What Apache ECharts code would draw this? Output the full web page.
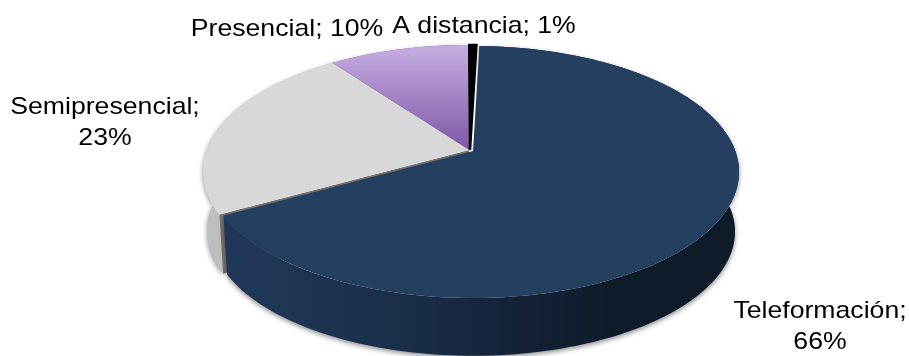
<!DOCTYPE html>
<html><head><meta charset="utf-8">
<style>html,body{margin:0;padding:0;background:#fff}#c{width:909px;height:356px}</style>
<script src="https://cdn.jsdelivr.net/npm/echarts@6/dist/echarts.min.js"></script>
</head><body><div id="c"></div>
<script>
const categories = ['Semipresencial', 'Presencial', 'A distancia', 'Teleformación'];
const values = [23, 10, 0.51, 66.49];
const labelBreaks = [true, false, false, true];

const chart = echarts.init(document.getElementById('c'), null, {renderer: 'canvas'});
const total = values.reduce((a, b) => a + b, 0);
const START = 241, K = 1 / 6, CX = 469, CY = 150, RX = 262.3, RY = 122.5;
const DEPTH = 60, LOW = 0.985;
const G = echarts.graphic.LinearGradient;

function project(deg, off, low) {
  const t = deg * Math.PI / 180, x = Math.sin(t), y = -Math.cos(t), w = 1 - K * y;
  const s = low ? LOW : 1;
  return [CX + off[0] + s * RX * x / w, CY + off[1] + (low ? DEPTH : 0) + s * RY * y / w];
}
function arc(a, b, off, low) {
  const n = Math.max(4, Math.ceil(Math.abs(b - a) / 1.5)), pts = [];
  for (let i = 0; i <= n; i++) pts.push(project(a + (b - a) * i / n, off, low));
  return pts;
}
const looks = [
  {top: '#D8D8D8', side: '#BEBEBE', off: [0, 0]},
  {top: new G(0, 45, 0, 150, [{offset: 0, color: '#C6AEE3'}, {offset: 1, color: '#7D58A4'}], true), side: '#6d4f90', off: [0, 0]},
  {top: '#000000', off: [1, 0], edge: 2.5},
  {top: '#243F60', off: [4, 1], side: new G(225, 0, 735, 0, [
    {offset: 0, color: '#203859'}, {offset: 0.35, color: '#1A2E49'},
    {offset: 0.55, color: '#15233A'}, {offset: 0.75, color: '#101B2A'}, {offset: 1, color: '#101B2A'}], true)}
];
const labelSpots = [
  {x: 105, y: 123}, {x: 287, y: 29},
  {x: 484, y: 26}, {x: 820, y: 327}
];

function renderItem(params, api) {
  const i = params.dataIndex, v = api.value(0);
  let before = 0;
  for (let j = 0; j < i; j++) before += values[j];
  const a = START + 360 * before / total, b = a + 360 * v / total;
  const look = looks[i], off = look.off, children = [];
  const topArc = arc(a, b, off, false), lowArc = arc(a, b, off, true);
  if (look.side) {
    children.push({type: 'polygon', z2: i + 1, shape: {points: topArc.concat(lowArc.slice().reverse())},
      style: {fill: look.side, shadowBlur: 5, shadowColor: 'rgba(0,0,0,0.45)', shadowOffsetY: 2}});
  }
  if (i === 0) {
    const c = [CX + off[0], CY + off[1]], e = project(a, off, false), f = project(a, off, true);
    children.push({type: 'polygon', z2: 3, shape: {points: [c, e, f, [c[0], c[1] + DEPTH]]}, style: {fill: '#77736F'}});
  }
  const topStyle = look.edge ? {fill: look.top, stroke: look.top, lineWidth: look.edge} : {fill: look.top};
  children.push({type: 'polygon', z2: 10 + i, shape: {points: [[CX + off[0], CY + off[1]]].concat(topArc)}, style: topStyle});
  const spot = labelSpots[i];
  children.push({type: 'text', z2: 100, x: spot.x, y: spot.y, scaleX: 1.11, style: {
    text: categories[i] + ';' + (labelBreaks[i] ? '\n' : ' ') + Math.round(v) + '%',
    x: 0, y: 0, align: 'center', verticalAlign: 'middle', lineHeight: 31,
    font: '24px "Liberation Sans", Arial, sans-serif', fill: '#000'}});
  return {type: 'group', children};
}
chart.setOption({
  animation: false,
  backgroundColor: '#fff',
  series: [{type: 'custom', coordinateSystem: 'none', renderItem, silent: true,
    data: values.map((v, i) => ({name: categories[i], value: [v]}))}]
});
</script></body></html>
